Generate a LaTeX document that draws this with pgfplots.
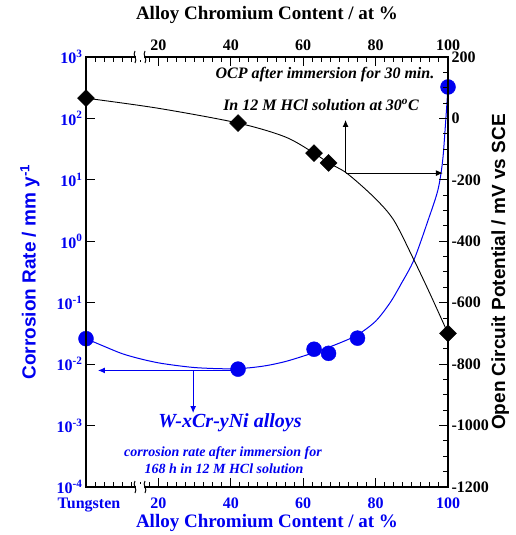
\documentclass[border=0pt]{standalone}
\usepackage{pgfplots}
\pgfplotsset{compat=1.18}
\usepackage{fontspec}
\setmainfont{Liberation Serif}
\newfontfamily\arialb{Liberation Sans}
\usetikzlibrary{arrows.meta}
\definecolor{myblue}{RGB}{0,0,240}
\begin{document}
\begin{tikzpicture}
\path[use as bounding box] (-86pt,-48pt) rectangle (430pt,487pt);
\pgfplotsset{
  common/.style={
    scale only axis, width=362pt, height=430pt,
    at={(0pt,0pt)}, anchor=south west,
    xmin=0, xmax=100,
    axis line style={line width=1.4pt, black},
    tick align=inside,
    major tick length=9pt, minor tick length=5pt,
    tick style={black, line width=1pt},
    /pgf/number format/assume math mode=true,
    /pgf/number format/1000 sep={},
    xtick={0,20,40,60,80,100},
    minor x tick num=7,
    clip mode=individual,
  }
}
% Corrosion rate axis (left, bottom)
\begin{axis}[common,
  ymode=log, log basis y=10, ymin=1e-4, ymax=1e3,
  xtick pos=bottom, ytick pos=left,
  xticklabels={\hspace*{6pt}Tungsten,20,40,60,80,100},
  xticklabel style={yshift=-7pt},
  ytickten={-4,-3,-2,-1,0,1,2,3},
  yticklabel={10\textsuperscript{\pgfmathprintnumber{\tick}}},
  every tick label/.append style={font=\fontsize{16}{16}\selectfont\bfseries, text=myblue},
  xlabel={Alloy Chromium Content / at \%},
  every axis x label/.style={at={(axis description cs:0.5,-0.084)}, anchor=center,
     font=\fontsize{19}{19}\selectfont\bfseries, text=myblue},
  ylabel={Corrosion Rate / mm y\textsuperscript{-1}},
  every axis y label/.style={at={(axis description cs:-0.155,0.5)}, anchor=center, rotate=90,
     font=\fontsize{19}{19}\selectfont\arialb\bfseries, text=myblue},
]
\addplot[myblue, line width=1pt, smooth, tension=0.5] coordinates {
 (0,0.026) (5,0.0195) (10,0.0148) (15,0.0122) (20,0.0105) (25,0.0095) (30,0.0088)
 (35,0.0085) (40,0.0084) (45,0.0087) (50,0.0095) (55,0.011) (60,0.0135) (65,0.017)
 (70,0.022) (75,0.03) (80,0.05) (84,0.1) (87,0.2) (90.6,0.5) (94.5,2.2) (97.2,6.8)
 (98.5,20) (99.3,80) (100,325)
};
\addplot[only marks, mark=*, mark size=7.5pt, myblue] coordinates {
 (0,0.026) (42,0.0083) (63,0.0175) (67,0.015) (75,0.0265) (100,325)
};
\draw[myblue, line width=1pt, -{Latex[length=7pt,width=6pt]}] (axis cs:40,0.0079) -- (axis cs:3.3,0.0079);
\draw[myblue, line width=1pt, -{Latex[length=7pt,width=6pt]}] (axis cs:29.6,0.0079) -- (axis cs:29.6,0.0016);
\end{axis}
% OCP axis (right, top)
\begin{axis}[common,
  ymin=-1200, ymax=200,
  xtick pos=top, ytick pos=right,
  xticklabel pos=top, yticklabel pos=right,
  xticklabels={,20,40,60,80,100},
  xticklabel style={yshift=3pt},
  ytick={-1200,-1000,-800,-600,-400,-200,0,200},
  minor y tick num=3,
  every tick label/.append style={font=\fontsize{16}{16}\selectfont\bfseries, text=black},
  xlabel={Alloy Chromium Content / at \%},
  every axis x label/.style={at={(axis description cs:0.5,1.098)}, anchor=center,
     font=\fontsize{19}{19}\selectfont\bfseries, text=black},
  ylabel={Open Circuit Potential / mV vs SCE},
  every axis y label/.style={at={(axis description cs:1.144,0.5)}, anchor=center, rotate=90,
     font=\fontsize{19}{19}\selectfont\arialb\bfseries, text=black},
]
\addplot[black, line width=0.9pt, smooth, tension=0.5] coordinates {
 (0,66) (20,33) (42,-15) (55,-60) (63,-113) (67,-145) (72,-178) (79.5,-256)
 (85,-331) (90.6,-461) (95,-570) (100,-700)
};
\addplot[only marks, mark=square*, mark size=6pt, mark options={rotate=45}, black] coordinates {
 (0,66) (42,-15) (63,-113) (67,-145) (100,-700)
};
\draw[black, line width=1pt, -{Latex[length=7pt,width=6pt]}] (axis cs:71.7,-178) -- (axis cs:71.7,-5);
\draw[black, line width=1pt, -{Latex[length=7pt,width=6pt]}] (axis cs:71.7,-178) -- (axis cs:98.6,-178);
\end{axis}
% axis breaks
\foreach \yy in {0,430}{
  \fill[white] (50pt,\yy pt-3pt) rectangle (58pt,\yy pt+3pt);
  \draw[line width=1pt] (49pt,\yy pt-6pt) .. controls (52pt,\yy pt-2pt) and (46pt,\yy pt+2pt) .. (49pt,\yy pt+6pt);
  \draw[line width=1pt] (59pt,\yy pt-6pt) .. controls (62pt,\yy pt-2pt) and (56pt,\yy pt+2pt) .. (59pt,\yy pt+6pt);
}
% annotations
\node[font=\fontsize{16}{16}\selectfont\bfseries\itshape] at (239pt,412pt) {OCP after immersion for 30 min.};
\node[font=\fontsize{16}{16}\selectfont\bfseries\itshape] at (235pt,382pt) {In 12 M HCl solution at 30\textsuperscript{o}C};
\node[font=\fontsize{20}{20}\selectfont\bfseries\itshape, text=myblue] at (144pt,64pt) {W-xCr-yNi alloys};
\node[font=\fontsize{14}{14}\selectfont\bfseries\itshape, text=myblue] at (137pt,34pt) {corrosion rate after immersion for};
\node[font=\fontsize{14}{14}\selectfont\bfseries\itshape, text=myblue] at (138pt,18pt) {168 h in 12 M HCl solution};
\end{tikzpicture}
\end{document}
